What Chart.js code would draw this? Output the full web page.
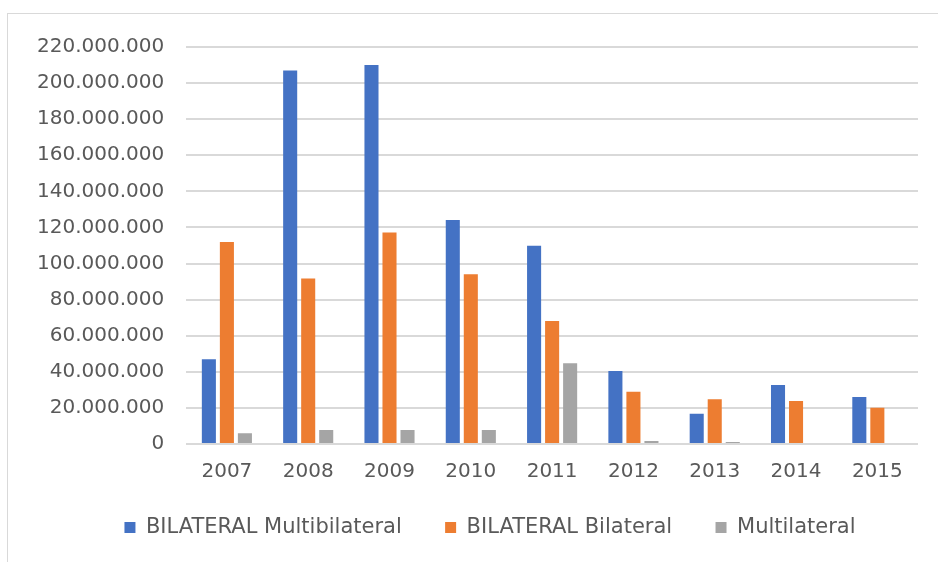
<!DOCTYPE html>
<html>
<head>
<meta charset="utf-8">
<script src="https://cdn.jsdelivr.net/npm/chart.js@4.4.1/dist/chart.umd.min.js"></script>
<style>
  html, body { margin: 0; padding: 0; background: #fff; }
  #wrap { position: relative; width: 938px; height: 562px; overflow: hidden; }
  #moldura { position: absolute; left: 7px; top: 13px; width: 940px; height: 560px;
    border-left: 1px solid #d9d9d9; border-top: 1px solid #d9d9d9; }
  canvas { position: absolute; left: 0; top: 0; }
</style>
</head>
<body>
<div id="wrap">
  <div id="moldura"></div>
  <canvas id="grafico" width="938" height="562"></canvas>
</div>
<script>
const anos = ["2007", "2008", "2009", "2010", "2011", "2012", "2013", "2014", "2015"];
const multibilateral = [47000000, 207000000, 210000000, 124200000, 109800000, 40500000, 16700000, 32700000, 26000000];
const bilateral = [112000000, 91700000, 117200000, 94100000, 68200000, 29000000, 24800000, 23800000, 20100000];
const multilateral = [5900000, 7800000, 7800000, 7800000, 44700000, 1700000, 1100000, 0, 0];
const legendas = ["BILATERAL Multibilateral", "BILATERAL Bilateral", "Multilateral"];
const cores = ["#4472C4", "#ED7D31", "#A5A5A5"];

document.addEventListener("DOMContentLoaded", function () {
  const canvas = document.getElementById("grafico");

  // separador de milhar com ponto
  const formatar = valor => String(Math.round(valor)).replace(/\B(?=(\d{3})+(?!\d))/g, ".");

  Chart.defaults.font.family = "'DejaVu Sans', Verdana, sans-serif";
  Chart.defaults.font.size = 20;
  Chart.defaults.color = "#595959";

  // empurra a legenda um pouco para a direita, como no original
  const ajusteLegenda = {
    id: "ajusteLegenda",
    afterLayout(chart) {
      chart.legend.left += 47;
    },
  };

  const series = [multibilateral, bilateral, multilateral];

  new Chart(canvas.getContext("2d"), {
    type: "bar",
    data: {
      labels: anos,
      datasets: series.map((dados, i) => ({
        // espaços no fim para separar os itens da legenda
        label: i < 2 ? legendas[i] + "     " : legendas[i],
        data: dados,
        backgroundColor: cores[i],
        borderWidth: 0,
        barPercentage: 0.78,
        categoryPercentage: 0.665,
      })),
    },
    options: {
      responsive: false,
      animation: false,
      layout: {
        padding: { left: 15, right: 20, top: 47, bottom: 14 },
      },
      plugins: {
        legend: {
          position: "bottom",
          labels: {
            boxWidth: 11,
            boxHeight: 11,
            padding: 10,
            color: "#595959",
            font: { size: 21 },
          },
        },
        tooltip: { enabled: false },
      },
      scales: {
        x: {
          grid: { display: false, drawTicks: false },
          border: { display: false },
          ticks: { padding: 16 },
          afterFit: escala => { escala.height += 7; },
        },
        y: {
          min: 0,
          max: 220000000,
          ticks: {
            stepSize: 20000000,
            padding: 22,
            callback: v => formatar(v),
          },
          grid: { color: "#d9d9d9", lineWidth: 2, drawTicks: false },
          border: { display: false },
        },
      },
    },
    plugins: [ajusteLegenda],
  });
});
</script>
</body>
</html>
